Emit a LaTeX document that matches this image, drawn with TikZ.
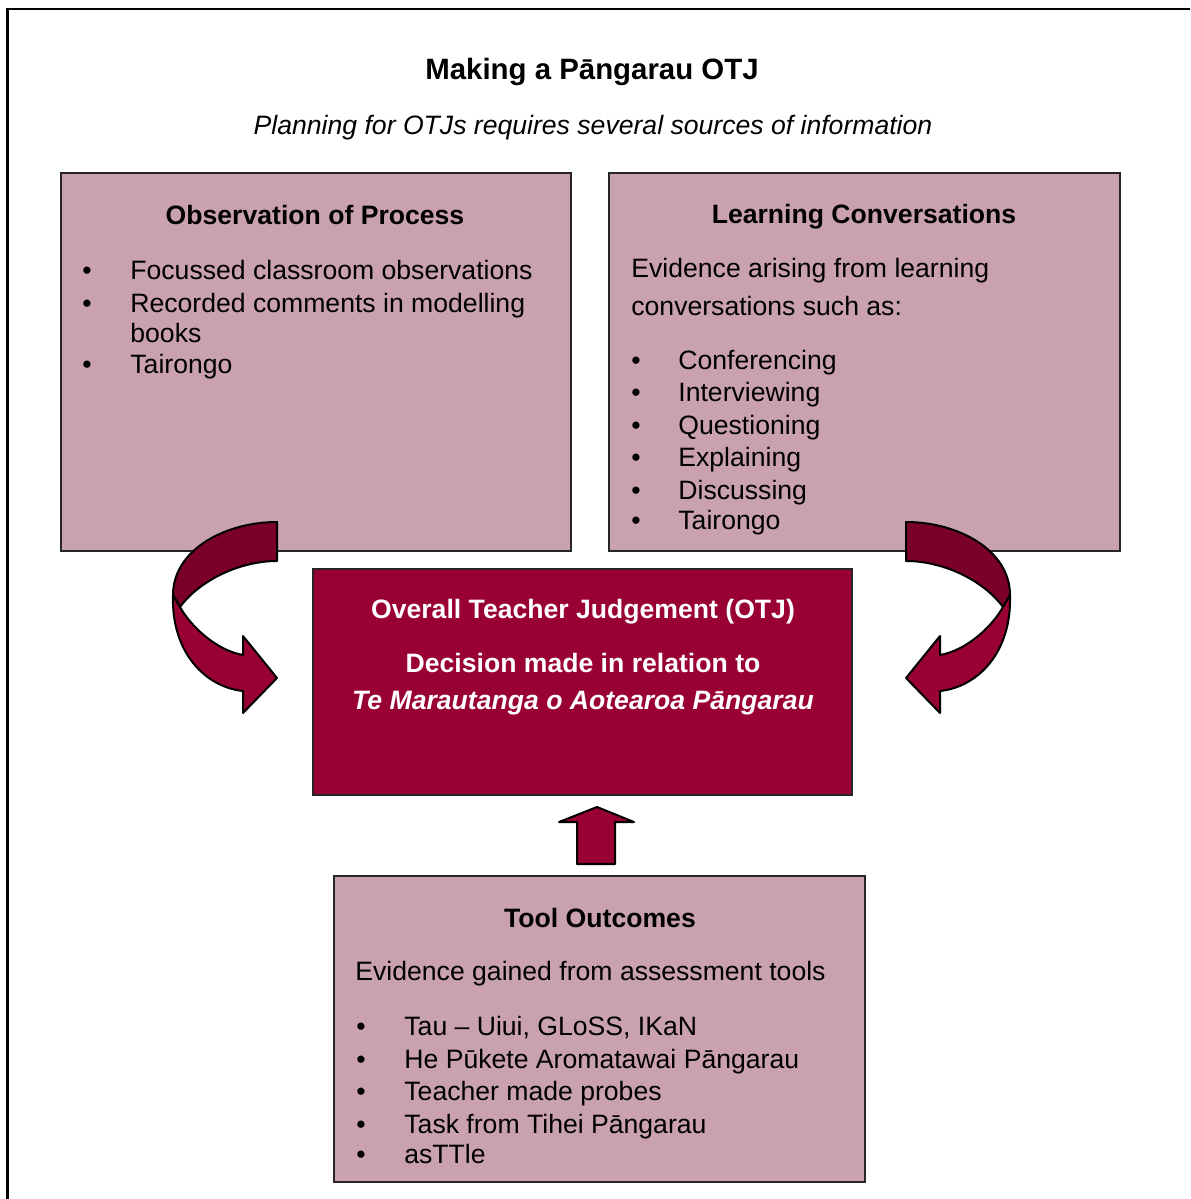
\documentclass[tikz,border=0pt]{standalone}
\usepackage{fontspec}
\setmainfont{Liberation Sans}
\usetikzlibrary{positioning, fit}
\definecolor{boxpink}{RGB}{201,162,174}
\definecolor{otjred}{RGB}{153,0,51}
\definecolor{otjdark}{RGB}{122,0,41}
\newcommand{\bodysize}{\fontsize{13.3}{16}\selectfont}
\tikzstyle{Box} = [draw=black!85, line width=1pt, fill=boxpink, inner sep=0pt]
\tikzstyle{Head} = [font=\bodysize\bfseries, anchor=base, inner sep=0pt]
\tikzstyle{Item} = [font=\bodysize, anchor=base west, inner sep=0pt]
\tikzstyle{Dot} = [font=\bodysize, anchor=base, inner sep=0pt]
\tikzstyle{Ribbon} = [draw=black, line width=1pt, line join=round]

\begin{document}
\begin{tikzpicture}[x=0.5pt, y=-0.5pt]
    \useasboundingbox (0,0) rectangle (1190,1199);
    \begin{scope}
        \clip (0,0) rectangle (1190,1199);
        \draw[line width=1.2pt] (7.5,9) rectangle (1210,1215);
    \end{scope}

    % heading
    \node[Head, font=\fontsize{14.7}{17}\selectfont\bfseries] (title) at (592,79) {Making a Pāngarau OTJ};
    \node[Item, anchor=base, font=\bodysize\itshape] (sub) at (593,134) {Planning for OTJs requires several sources of information};

    % the three source boxes and the judgement box
    \node[Box, fit={(61,173) (571,551)}] (obs) {};
    \node[Box, fit={(609,173) (1120,551)}] (conv) {};
    \node[Box, fit={(334,876) (865,1182)}] (tool) {};
    \node[Box, fill=otjred, fit={(313,569) (852,795)}] (otj) {};

    % Observation of Process
    \node[Head] (obshead) at (315,224) {Observation of Process};
    \node[Dot] (ob1) at (87,279) {\textbullet};
    \node[Item] (o1) at (130,279) {Focussed classroom observations};
    \node[Dot] (ob2) at (87,312) {\textbullet};
    \node[Item] (o2) at (130,312) {Recorded comments in modelling};
    \node[Item] (o2b) at (130,342) {books};
    \node[Dot] (ob3) at (87,373) {\textbullet};
    \node[Item] (o3) at (130,373) {Tairongo};

    % Learning Conversations
    \node[Head] (convhead) at (864,223) {Learning Conversations};
    \node[Item] (cintro) at (631,277) {Evidence arising from learning};
    \node[Item] (cintro2) at (631,315) {conversations such as:};
    \node[Dot] (cb1) at (636,369) {\textbullet};
    \node[Item] (c1) at (678,369) {Conferencing};
    \node[Dot] (cb2) at (636,401) {\textbullet};
    \node[Item] (c2) at (678,401) {Interviewing};
    \node[Dot] (cb3) at (636,434) {\textbullet};
    \node[Item] (c3) at (678,434) {Questioning};
    \node[Dot] (cb4) at (636,466) {\textbullet};
    \node[Item] (c4) at (678,466) {Explaining};
    \node[Dot] (cb5) at (636,499) {\textbullet};
    \node[Item] (c5) at (678,499) {Discussing};
    \node[Dot] (cb6) at (636,529) {\textbullet};
    \node[Item] (c6) at (678,529) {Tairongo};

    % Overall Teacher Judgement
    \node[Head, text=white] (otjhead) at (583,618) {Overall Teacher Judgement (OTJ)};
    \node[Head, text=white] (otj2) at (583,672) {Decision made in relation to};
    \node[Head, text=white, font=\bodysize\bfseries\itshape] (otj3) at (583,709) {Te Marautanga o Aotearoa Pāngarau};

    % Tool Outcomes
    \node[Head] (toolhead) at (600,927) {Tool Outcomes};
    \node[Item] (tintro) at (355,980) {Evidence gained from assessment tools};
    \node[Dot] (tb1) at (361,1035) {\textbullet};
    \node[Item] (t1) at (404,1035) {Tau – Uiui, GLoSS, IKaN};
    \node[Dot] (tb2) at (361,1068) {\textbullet};
    \node[Item] (t2) at (404,1068) {He Pūkete Aromatawai Pāngarau};
    \node[Dot] (tb3) at (361,1100) {\textbullet};
    \node[Item] (t3) at (404,1100) {Teacher made probes};
    \node[Dot] (tb4) at (361,1133) {\textbullet};
    \node[Item] (t4) at (404,1133) {Task from Tihei Pāngarau};
    \node[Dot] (tb5) at (361,1163) {\textbullet};
    \node[Item] (t5) at (404,1163) {asTTle};

    % curved ribbon arrows into the judgement box
    \foreach \side in {0,1} {
        \begin{scope}[shift={(1183*\side,0)}, xscale=1-2*\side]
            \draw[Ribbon, fill=otjdark] (277,522) .. controls (225,522) and (173,550) .. (173,595)
                -- (180,607) .. controls (200,580) and (240,561) .. (277,561) -- cycle;
            \draw[Ribbon, fill=otjred] (173,595) .. controls (171,652) and (205,687) .. (243,691)
                -- (243,713) -- (277,678) -- (243,636) -- (243,655)
                .. controls (215,650) and (190,625) .. (180,607) -- cycle;
        \end{scope}
    }

    % block arrow up from the tools
    \draw[Ribbon, fill=otjred] (577,864) -- (577,822) -- (559,822) -- (597,807)
        -- (634,822) -- (615,822) -- (615,864) -- cycle;
\end{tikzpicture}
\end{document}
